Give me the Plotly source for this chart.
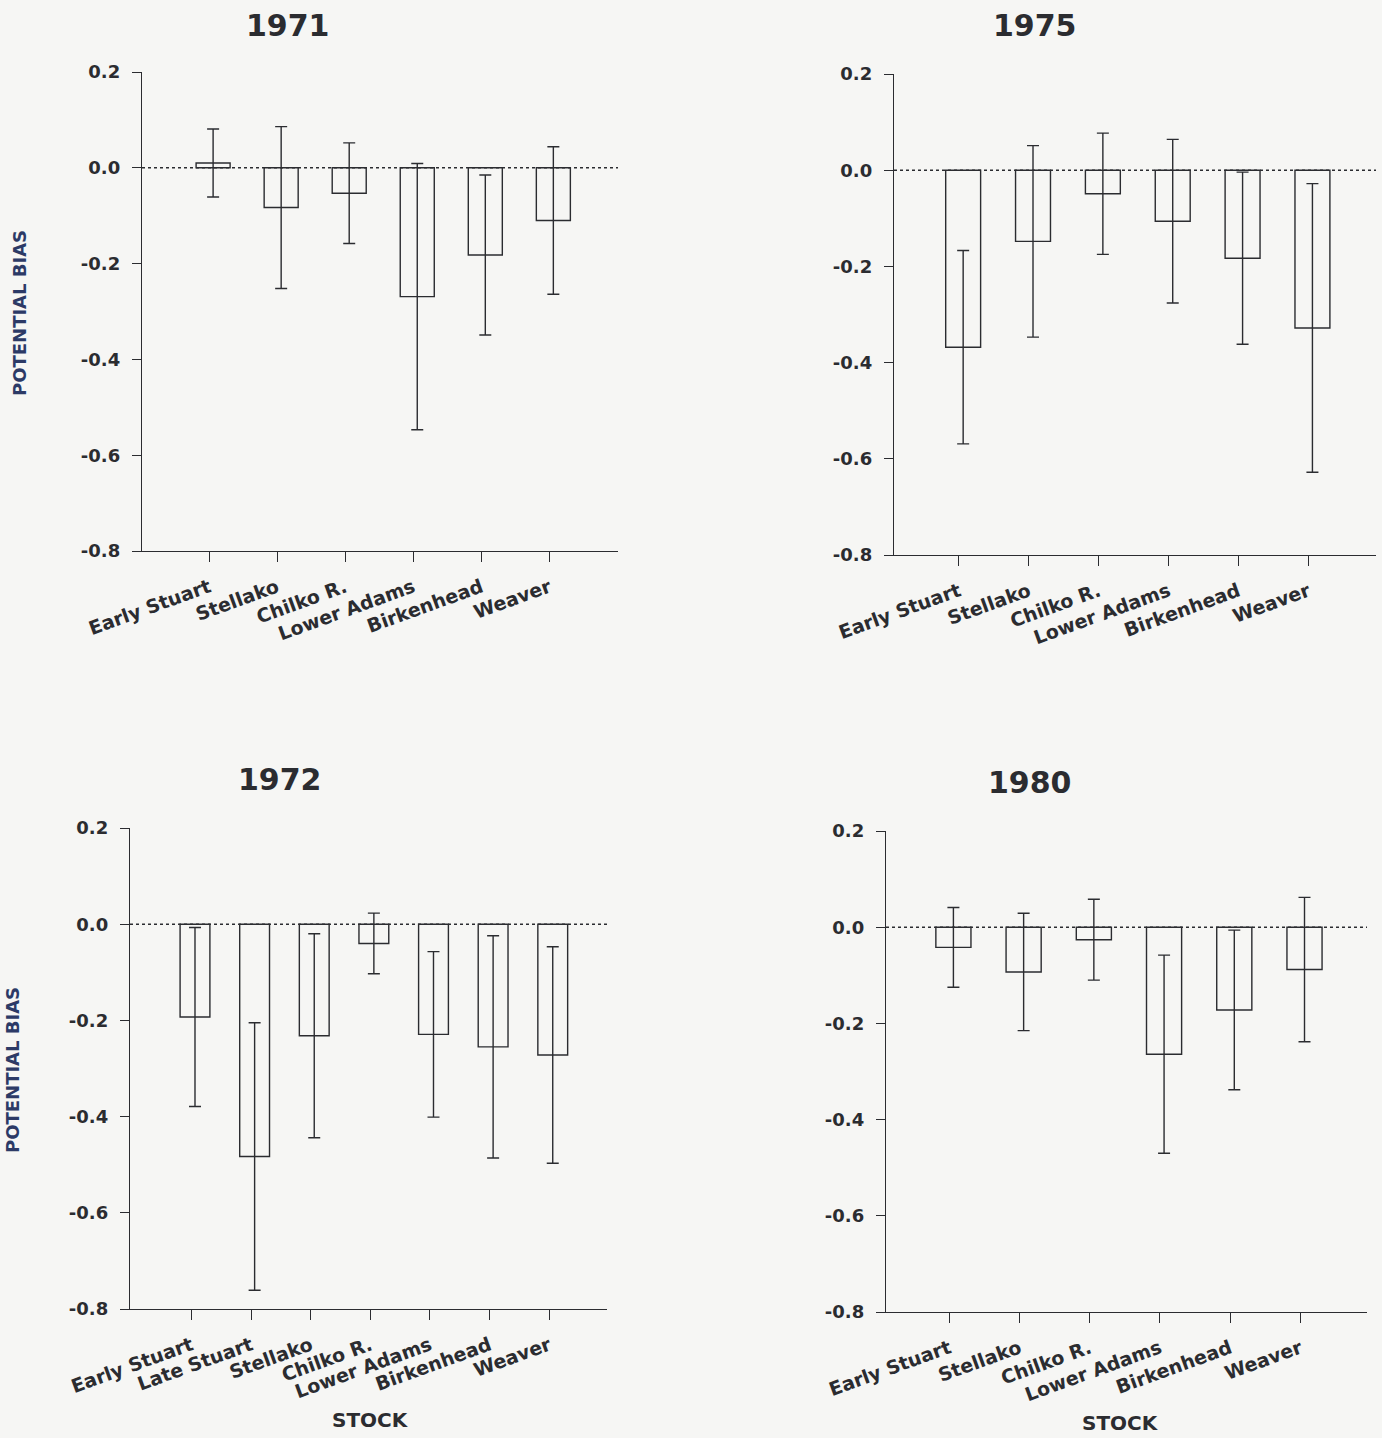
import plotly.graph_objects as go

# Stock names on the x axes
stocks_6 = ["Early Stuart", "Stellako", "Chilko R.", "Lower Adams", "Birkenhead", "Weaver"]
stocks_7 = ["Early Stuart", "Late Stuart", "Stellako", "Chilko R.", "Lower Adams", "Birkenhead", "Weaver"]

# Potential bias and error half-widths per year
bias_1971 = [0.010, -0.083, -0.053, -0.269, -0.182, -0.110]
err_1971 = [0.071, 0.169, 0.105, 0.278, 0.167, 0.154]

bias_1975 = [-0.368, -0.148, -0.049, -0.106, -0.183, -0.328]
err_1975 = [0.201, 0.199, 0.126, 0.170, 0.179, 0.300]

bias_1972 = [-0.193, -0.483, -0.232, -0.040, -0.229, -0.255, -0.272]
err_1972 = [0.186, 0.278, 0.212, 0.063, 0.172, 0.231, 0.225]

bias_1980 = [-0.042, -0.093, -0.026, -0.264, -0.172, -0.088]
err_1980 = [0.083, 0.122, 0.084, 0.206, 0.166, 0.150]

y_ticks = [0.2, 0.0, -0.2, -0.4, -0.6, -0.8]
y_ticktext = ["0.2", "0.0", "-0.2", "-0.4", "-0.6", "-0.8"]

W, H = 1382, 1438
INK = "#2b2c30"
NAVY = "#2c3a66"
FONT = "DejaVu Sans"

# panel boxes in pixels: (left, right, top, bottom), x range, title position
panels = [
    dict(year="1971", names=stocks_6, bias=bias_1971, err=err_1971,
         box=(142, 618, 72, 551), xr=(-0.985, 6.01), title=(288, 26), ylab=(19, 313), stock=None),
    dict(year="1975", names=stocks_6, bias=bias_1975, err=err_1975,
         box=(894, 1376, 74, 555), xr=(-0.93, 5.97), title=(1035, 26), ylab=None, stock=None),
    dict(year="1972", names=stocks_7, bias=bias_1972, err=err_1972,
         box=(130, 607, 828, 1309), xr=(-1.03, 6.97), title=(280, 780), ylab=(12, 1070), stock=(370, 1420)),
    dict(year="1980", names=stocks_6, bias=bias_1980, err=err_1980,
         box=(886, 1367, 831, 1312), xr=(-0.90, 5.95), title=(1030, 782), ylab=None, stock=(1120, 1423)),
]

fig = go.Figure()
layout = dict(
    width=W, height=H, margin=dict(l=0, r=0, t=0, b=0, autoexpand=False),
    paper_bgcolor="#f6f6f4", plot_bgcolor="rgba(0,0,0,0)",
    showlegend=False, font=dict(family=FONT, color=INK),
)
annotations = []
shapes = []

for k, p in enumerate(panels, start=1):
    xa = "x" if k == 1 else f"x{k}"
    ya = "y" if k == 1 else f"y{k}"
    left, right, top, bottom = p["box"]
    n = len(p["names"])
    ticks = list(range(n))
    bar_x = [t + 0.06 for t in ticks]

    fig.add_trace(go.Bar(
        x=bar_x, y=p["bias"], width=0.5, xaxis=xa, yaxis=ya,
        marker=dict(color="rgba(0,0,0,0)", line=dict(color=INK, width=1.4)),
        error_y=dict(type="data", array=p["err"], symmetric=True,
                     color=INK, thickness=1.4, width=6),
        hoverinfo="skip",
    ))

    layout[f"xaxis{'' if k == 1 else k}"] = dict(
        domain=[left / W, right / W], anchor=ya, range=list(p["xr"]),
        tickvals=ticks, ticktext=p["names"], tickangle=-20, automargin=False,
        showline=True, linecolor=INK, linewidth=1.4,
        ticks="outside", ticklen=10, tickwidth=1.4, tickcolor=INK,
        ticklabelstandoff=7,
        showgrid=False, zeroline=False,
        tickfont=dict(family=FONT, size=19, color=INK, weight="bold"),
    )
    layout[f"yaxis{'' if k == 1 else k}"] = dict(
        domain=[1 - bottom / H, 1 - top / H], anchor=xa, range=[-0.8, 0.2],
        tickvals=y_ticks, ticktext=y_ticktext, automargin=False,
        showline=True, linecolor=INK, linewidth=1.4,
        ticks="outside", ticklen=9, tickwidth=1.4, tickcolor=INK,
        ticklabelstandoff=8,
        showgrid=False, zeroline=False,
        tickfont=dict(family=FONT, size=18, color=INK, weight="bold"),
    )

    # dotted zero reference line
    shapes.append(dict(type="line", xref=f"{xa} domain", yref=ya, x0=0, x1=1, y0=0, y1=0,
                       line=dict(color=INK, width=1.4, dash="dot")))

    tx, ty = p["title"]
    annotations.append(dict(text=p["year"], x=tx / W, y=1 - ty / H, xref="paper", yref="paper",
                            showarrow=False, xanchor="center", yanchor="middle",
                            font=dict(family=FONT, size=30, color=INK, weight="bold")))
    if p["ylab"]:
        lx, ly = p["ylab"]
        annotations.append(dict(text="POTENTIAL BIAS", x=lx / W, y=1 - ly / H, xref="paper", yref="paper",
                                showarrow=False, textangle=-90, xanchor="center", yanchor="middle",
                                font=dict(family=FONT, size=18, color=NAVY, weight="bold")))
    if p["stock"]:
        sx, sy = p["stock"]
        annotations.append(dict(text="STOCK", x=sx / W, y=1 - sy / H, xref="paper", yref="paper",
                                showarrow=False, xanchor="center", yanchor="middle",
                                font=dict(family=FONT, size=20, color=INK, weight="bold")))

layout["annotations"] = annotations
layout["shapes"] = shapes
fig.update_layout(**layout)
fig.write_html("out.html")
